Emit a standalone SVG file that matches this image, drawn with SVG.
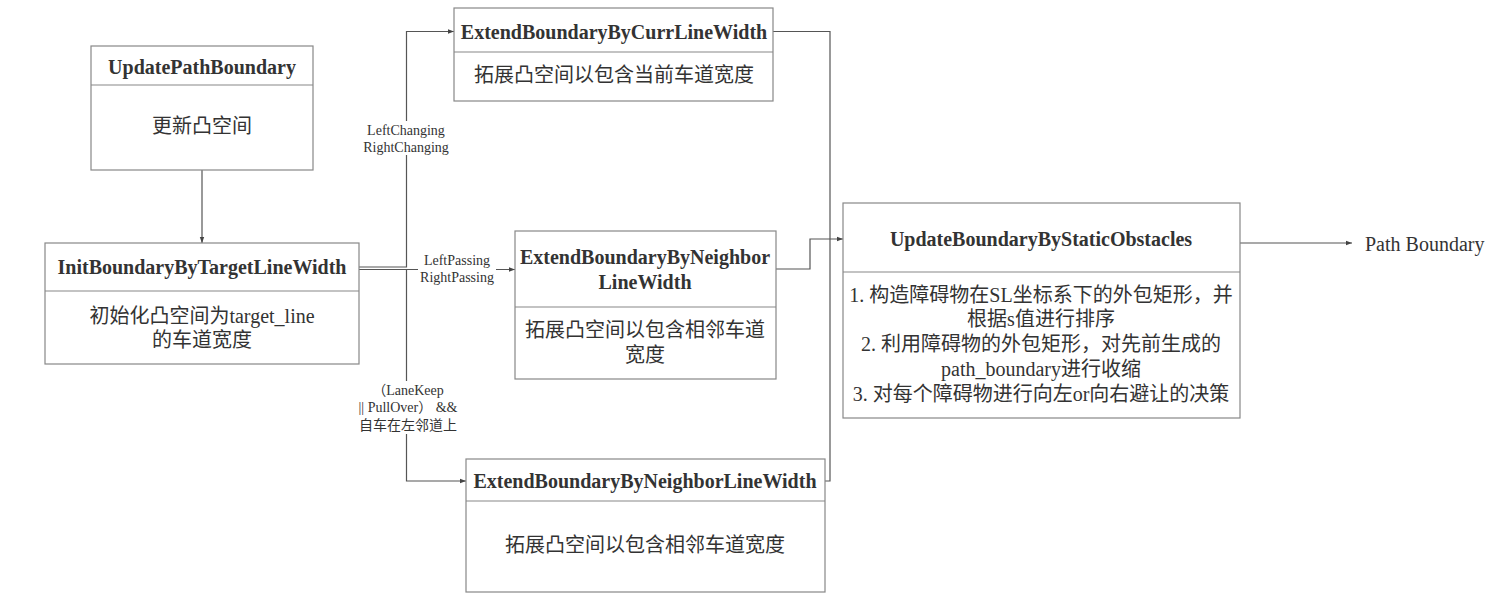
<svg xmlns="http://www.w3.org/2000/svg" width="1500" height="612" viewBox="0 0 1500 612">
<style>
.box{fill:#fff;stroke:#888;stroke-width:1.2}
.div{stroke:#888;stroke-width:1.2}
.t{font-family:"Liberation Serif","Noto Sans CJK SC",serif;font-weight:bold;font-size:20px;fill:#333;text-anchor:middle;dominant-baseline:central}
.b{font-family:"Liberation Serif","Noto Sans CJK SC",serif;font-size:20px;fill:#333;text-anchor:middle;dominant-baseline:central}
.l{font-family:"Liberation Serif","Noto Sans CJK SC",serif;font-size:14px;fill:#333;text-anchor:middle;dominant-baseline:central}
.c{fill:none;stroke:#555;stroke-width:1.2}
</style>
<defs>
<marker id="a" viewBox="0 0 6 6" refX="6" refY="3" markerWidth="6" markerHeight="6" orient="auto" markerUnits="userSpaceOnUse">
<path d="M0,0.8 L6,3 L0,5.2 Z" fill="#444"/>
</marker>
</defs>
<rect width="1500" height="612" fill="#fff"/>
<g id="connectors">
<path class="c" d="M202,170 V243" marker-end="url(#a)"/>
<path class="c" d="M359,267 H406.5 V31.5 H454" marker-end="url(#a)"/>
<path class="c" d="M359,269.5 H515" marker-end="url(#a)"/>
<path class="c" d="M359,269.5 H406.5 V481 H466" marker-end="url(#a)"/>
<path class="c" d="M773,31.5 H830 V481 H825"/>
<path class="c" d="M776,269 H810 V239 H843" marker-end="url(#a)"/>
<path class="c" d="M1240,243 H1352" marker-end="url(#a)"/>
<rect x="362" y="121" width="90" height="34" fill="#fff"/>
<text class="l" x="406" y="130">LeftChanging</text>
<text class="l" x="406" y="147">RightChanging</text>
<rect x="418" y="251" width="78" height="34" fill="#fff"/>
<text class="l" x="457" y="260">LeftPassing</text>
<text class="l" x="457" y="277">RightPassing</text>
<rect x="356" y="381" width="104" height="53" fill="#fff"/>
<text class="l" x="408" y="390">（LaneKeep</text>
<text class="l" x="408" y="407">|| PullOver） &amp;&amp;</text>
<text class="l" x="408" y="425">自车在左邻道上</text>
</g>
<g id="UpdatePathBoundary">
<rect class="box" x="91" y="46" width="222" height="124"/>
<line class="div" x1="91" y1="85" x2="313" y2="85"/>
<text class="t" x="202" y="67">UpdatePathBoundary</text>
<text class="b" x="202" y="126">更新凸空间</text>
</g>
<g id="InitBoundaryByTargetLineWidth">
<rect class="box" x="45" y="243" width="314" height="121"/>
<line class="div" x1="45" y1="291" x2="359" y2="291"/>
<text class="t" x="202" y="267">InitBoundaryByTargetLineWidth</text>
<text class="b" x="202" y="316">初始化凸空间为target_line</text>
<text class="b" x="202" y="340">的车道宽度</text>
</g>
<g id="ExtendBoundaryByCurrLineWidth">
<rect class="box" x="454" y="8" width="319" height="93"/>
<line class="div" x1="454" y1="52" x2="773" y2="52"/>
<text class="t" x="614" y="32">ExtendBoundaryByCurrLineWidth</text>
<text class="b" x="614" y="75">拓展凸空间以包含当前车道宽度</text>
</g>
<g id="ExtendBoundaryByNeighborLineWidth1">
<rect class="box" x="515" y="231" width="261" height="148"/>
<line class="div" x1="515" y1="307" x2="776" y2="307"/>
<text class="t" x="645" y="257">ExtendBoundaryByNeighbor</text>
<text class="t" x="645" y="282">LineWidth</text>
<text class="b" x="645" y="330">拓展凸空间以包含相邻车道</text>
<text class="b" x="645" y="355">宽度</text>
</g>
<g id="ExtendBoundaryByNeighborLineWidth2">
<rect class="box" x="466" y="459" width="359" height="133"/>
<line class="div" x1="466" y1="501" x2="825" y2="501"/>
<text class="t" x="645" y="481">ExtendBoundaryByNeighborLineWidth</text>
<text class="b" x="645" y="545">拓展凸空间以包含相邻车道宽度</text>
</g>
<g id="UpdateBoundaryByStaticObstacles">
<rect class="box" x="843" y="203" width="397" height="215"/>
<line class="div" x1="843" y1="272" x2="1240" y2="272"/>
<text class="t" x="1041" y="239">UpdateBoundaryByStaticObstacles</text>
<text class="b" x="1041" y="295">1. 构造障碍物在SL坐标系下的外包矩形，并</text>
<text class="b" x="1041" y="319">根据s值进行排序</text>
<text class="b" x="1041" y="344">2. 利用障碍物的外包矩形，对先前生成的</text>
<text class="b" x="1041" y="369">path_boundary进行收缩</text>
<text class="b" x="1041" y="394">3. 对每个障碍物进行向左or向右避让的决策</text>
</g>
<g id="PathBoundary">
<text class="b" x="1365" y="244" style="text-anchor:start">Path Boundary</text>
</g>
</svg>
